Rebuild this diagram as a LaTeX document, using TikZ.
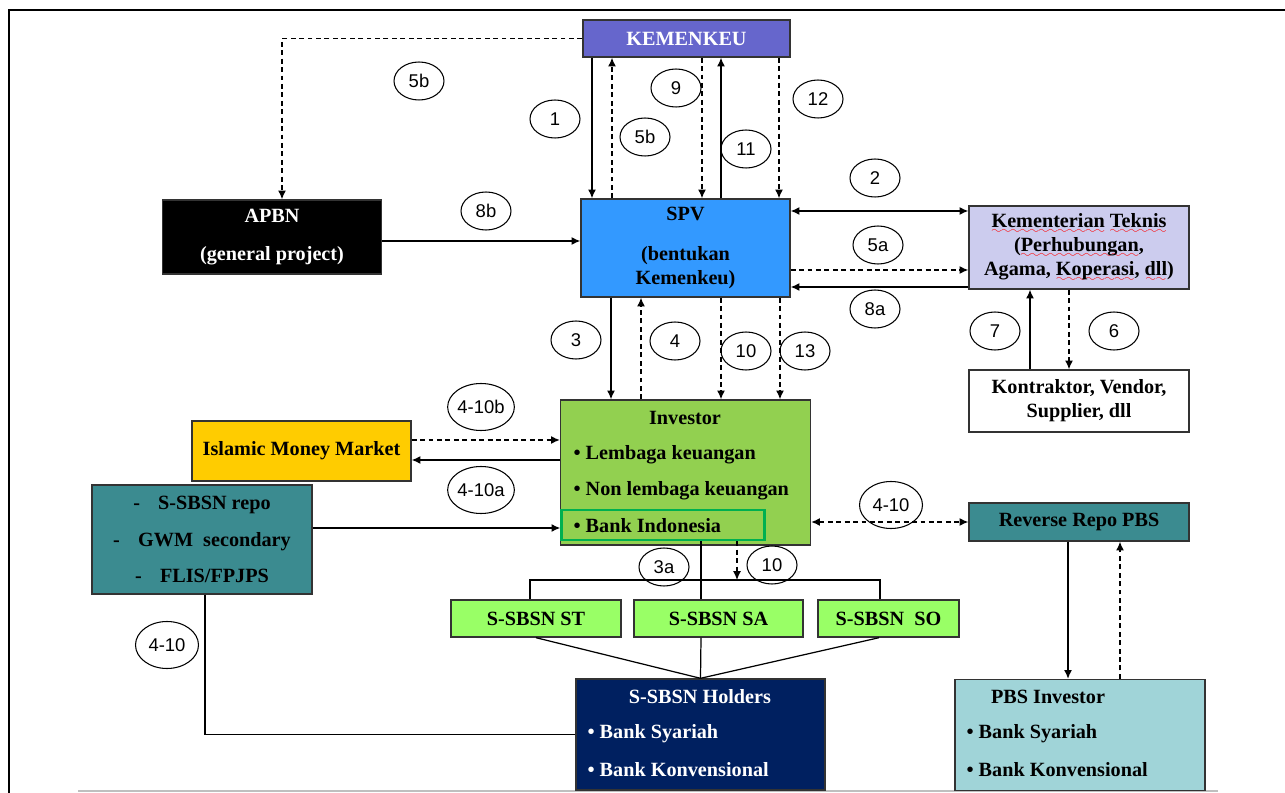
\documentclass[tikz,border=0pt]{standalone}
\usepackage{fontspec}
\setmainfont{Liberation Serif}
\setsansfont{Liberation Sans}
\usetikzlibrary{arrows.meta,shapes.geometric}

\definecolor{kempurple}{HTML}{6666CC}
\definecolor{spvblue}{HTML}{3399FF}
\definecolor{ktlav}{HTML}{CCCCEE}
\definecolor{invgreen}{HTML}{92D050}
\definecolor{bigreen}{HTML}{00B050}
\definecolor{immgold}{HTML}{FFCC00}
\definecolor{repoteal}{HTML}{3B8B90}
\definecolor{sbsngreen}{HTML}{99FF66}
\definecolor{holdnavy}{HTML}{002060}
\definecolor{pbsteal}{HTML}{A0D4D8}

% red spell-check wave under words
\font\sixly=lasy6
\newcommand\redwave[1]{\leavevmode\setbox0\hbox{#1}\rlap{\raisebox{-3.5pt}{\textcolor{red}{\hbox to \wd0{\xleaders\hbox{\sixly\char58}\hfil}}}}\box0\relax}

\begin{document}
\begin{tikzpicture}[x=0.02cm, y=-0.02cm, line width=0.7pt,
    box/.style={draw=black!80, line width=0.8pt, inner sep=0pt, align=center,
      font=\bfseries\fontsize{11.5}{13.5}\selectfont},
    txt/.style={inner sep=0pt, anchor=west, font=\bfseries\fontsize{11.5}{13.5}\selectfont},
    num/.style={draw, ellipse, line width=0.6pt, inner sep=0pt, minimum width=1cm,
      minimum height=0.76cm, font=\sffamily\fontsize{10.5}{12}\selectfont},
    numwide/.style={num, minimum width=1.26cm, minimum height=0.94cm},
    dsh/.style={dash pattern=on 2.8pt off 2pt},
    >={Latex[length=5pt,width=4.5pt]}]

    \useasboundingbox (0,0) rectangle (1285,793);
    % Frame
    \draw[line width=1.6pt] (9,793) -- (9,10) -- (1285,10);
    \draw[black!25, line width=1pt] (78,791) -- (1218,791);

    % Boxes
    \node[box, fill=kempurple, text=white, minimum width=4.14cm, minimum height=0.74cm] (kem) at (686.5,38.5) {KEMENKEU};
    \node[box, fill=black, text=white, minimum width=4.38cm, minimum height=1.48cm,
      font=\bfseries\fontsize{11.5}{21.5}\selectfont] (apbn) at (272,237) {APBN\\(general project)};
    \node[box, fill=spvblue, minimum width=4.18cm, minimum height=1.96cm] (spv) at (685.5,248) {SPV\\[9pt](bentukan\\Kemenkeu)};
    \node[box, fill=ktlav, minimum width=4.4cm, minimum height=1.66cm] (kt) at (1079,247.5)
      {\redwave{Kementerian} \redwave{Teknis}\\(\redwave{Perhubungan},\\Agama, \redwave{Koperasi}, \redwave{dll})};
    \node[box, fill=white, minimum width=4.4cm, minimum height=1.24cm] (kon) at (1079,401) {Kontraktor, Vendor,\\Supplier, dll};

    \node[box, fill=invgreen, minimum width=5cm, minimum height=2.9cm] (inv) at (685.5,472.5) {};
    \node[txt, anchor=center] (inv-t) at (685,418) {Investor};
    \node[txt] (inv-a) at (573,455) {• Lembaga keuangan};
    \node[txt] (inv-b) at (573,491) {• Non lembaga keuangan};
    \node[txt] (inv-c) at (573,526) {• Bank Indonesia};
    \node[draw=bigreen, line width=1.4pt, inner sep=0pt, minimum width=4.06cm, minimum height=0.6cm] (bi) at (663,525) {};

    \node[box, fill=immgold, minimum width=4.38cm, minimum height=1.2cm] (imm) at (301.5,451) {Islamic Money Market};
    \node[box, fill=repoteal, minimum width=4.4cm, minimum height=2.18cm,
      font=\bfseries\fontsize{11.5}{21}\selectfont] (repo) at (202,539.5)
      {-\hspace{0.9em}S-SBSN repo\\-\hspace{0.9em}GWM\ \ secondary\\-\hspace{0.9em}FLIS/FPJPS};
    \node[box, fill=repoteal, minimum width=4.4cm, minimum height=0.76cm] (rrp) at (1079,522) {Reverse Repo PBS};

    \node[box, fill=sbsngreen, minimum width=3.4cm, minimum height=0.74cm] (st) at (536,618.5) {S-SBSN ST};
    \node[box, fill=sbsngreen, minimum width=3.38cm, minimum height=0.74cm] (sa) at (718.5,618.5) {S-SBSN SA};
    \node[box, fill=sbsngreen, minimum width=2.82cm, minimum height=0.74cm] (so) at (888.5,618.5) {S-SBSN\ \ SO};

    \node[box, fill=holdnavy, minimum width=4.98cm, minimum height=2.22cm] (hold) at (700.5,734.5) {};
    \node[txt, anchor=center, text=white] (hold-t) at (700,697) {S-SBSN Holders};
    \node[txt, text=white] (hold-a) at (587,734) {• Bank Syariah};
    \node[txt, text=white] (hold-b) at (587,770) {• Bank Konvensional};

    \node[box, fill=pbsteal, minimum width=5cm, minimum height=2.22cm] (pbs) at (1080,735) {};
    \node[txt, anchor=center] (pbs-t) at (1048,697) {PBS Investor};
    \node[txt] (pbs-a) at (966,734) {• Bank Syariah};
    \node[txt] (pbs-b) at (966,770) {• Bank Konvensional};

    % Kemenkeu <-> SPV, APBN
    \draw[dsh, ->] (kem.west) -| (apbn.north -| 282,0);
    \draw[->] (kem.south -| 592,0) -- (spv.north -| 592,0);
    \draw[dsh, ->] (spv.north -| 612,0) -- (kem.south -| 612,0);
    \draw[dsh, ->] (kem.south -| 702,0) -- (spv.north -| 702,0);
    \draw[->] (spv.north -| 721,0) -- (kem.south -| 721,0);
    \draw[dsh, ->] (kem.south -| 779,0) -- (spv.north -| 779,0);
    \draw[->] (apbn.east |- 0,241) -- (spv.west |- 0,241);

    % SPV <-> Kementerian Teknis, Kontraktor
    \draw[<->] (spv.east |- 0,211) -- (kt.west |- 0,211);
    \draw[dsh, ->] (spv.east |- 0,270) -- (kt.west |- 0,270);
    \draw[->] (kt.west |- 0,287) -- (spv.east |- 0,287);
    \draw[->] (kon.north -| 1030,0) -- (kt.south -| 1030,0);
    \draw[dsh, ->] (kt.south -| 1069,0) -- (kon.north -| 1069,0);

    % SPV <-> Investor
    \draw[->] (spv.south -| 611,0) -- (inv.north -| 611,0);
    \draw[dsh, ->] (inv.north -| 641,0) -- (spv.south -| 641,0);
    \draw[dsh, ->] (spv.south -| 721,0) -- (inv.north -| 721,0);
    \draw[dsh, ->] (spv.south -| 780,0) -- (inv.north -| 780,0);

    % Investor <-> markets
    \draw[dsh, ->] (imm.east |- 0,440) -- (inv.west |- 0,440);
    \draw[->] (inv.west |- 0,460) -- (imm.east |- 0,460);
    \draw[->] (repo.east |- 0,528) -- (bi.west |- 0,528);
    \draw[dsh, <->] (inv.east |- rrp.west) -- (rrp.west);
    \draw[->] (rrp.south -| 1068,0) -- (pbs.north -| 1068,0);
    \draw[dsh, ->] (pbs.north -| 1120,0) -- (rrp.south -| 1120,0);

    % Investor to S-SBSN series and holders
    \coordinate (tj) at (737,580);
    \draw (bi.south -| 701,0) -- (sa.north -| 701,0);
    \draw (st.north -| 530,0) -- (530,580) -- (880,580) -- (so.north -| 880,0);
    \draw[dsh, ->] (bi.south -| tj) -- (tj);
    \draw (st.south) -- (hold.north);
    \draw (sa.south -| 701,0) -- (hold.north);
    \draw (so.south -| 879,0) -- (hold.north);
    \draw (repo.south -| 205,0) |- (hold.west);

    % Step labels
    \node[num] (l5b-top) at (419,81) {5b};
    \node[num] (l1) at (555,119) {1};
    \node[num] (l9) at (676,88) {9};
    \node[num] (l5b) at (645,137) {5b};
    \node[num] (l11) at (746,149) {11};
    \node[num] (l12) at (818,99) {12};
    \node[num] (l2) at (875,178) {2};
    \node[num] (l8b) at (486,211) {8b};
    \node[num] (l5a) at (878,245) {5a};
    \node[num] (l8a) at (875,309) {8a};
    \node[num] (l7) at (995,331) {7};
    \node[num] (l6) at (1114,331) {6};
    \node[num] (l3) at (576,340) {3};
    \node[num] (l4) at (675,341) {4};
    \node[num] (l10) at (746,351) {10};
    \node[num] (l13) at (805,351) {13};
    \node[numwide] (l410b) at (481,407) {4-10b};
    \node[numwide] (l410a) at (481,490) {4-10a};
    \node[numwide] (l410r) at (891,505) {4-10};
    \node[num] (l3a) at (664,567) {3a};
    \node[num] (l10b) at (772,565) {10};
    \node[numwide] (l410l) at (167,645) {4-10};
\end{tikzpicture}
\end{document}
